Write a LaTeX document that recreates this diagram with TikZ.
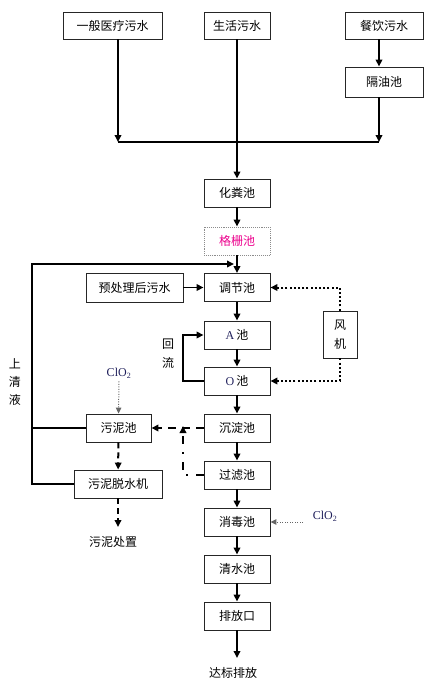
\documentclass[tikz,border=0pt]{standalone}
\usepackage{fontspec}
\setmainfont{Liberation Serif}
\newfontfamily\cjk{Noto Sans CJK SC}
\usetikzlibrary{arrows.meta}
\definecolor{navy}{RGB}{30,30,90}
\begin{document}
\begin{tikzpicture}[x=1pt,y=-1pt,
  box/.style={draw=black!85, line width=0.9pt, minimum width=66pt, minimum height=28pt, inner sep=0pt, font=\cjk\fontsize{12}{14}\selectfont},
  lbl/.style={inner sep=0pt, font=\cjk\fontsize{12}{14}\selectfont},
  tip/.style={-{Triangle[length=7pt,width=6.5pt]}},
  flow/.style={line width=1.8pt, tip},
  ln/.style={line width=1.8pt},
  dotflow/.style={line width=2pt, dash pattern=on 2pt off 2.2pt, tip},
  thindot/.style={line width=1pt, draw=black!60, dash pattern=on 1pt off 1.5pt, -{Triangle[length=6pt,width=5.5pt]}},
  dashflow/.style={line width=2pt, dash pattern=on 8pt off 6pt, tip},
  dashdotflow/.style={line width=2pt, dash pattern=on 8pt off 8pt on 2pt off 8pt, tip},
  sdash/.style={line width=2pt, dash pattern=on 6pt off 4pt, tip}
]
\useasboundingbox (0,0) rectangle (438,683);

% top sources
\node[box, minimum width=99pt, minimum height=27pt] (yiban) at (112.5,25.5) {一般医疗污水};
\node[box, minimum width=66pt, minimum height=27pt] (shenghuo) at (237,25.5) {生活污水};
\node[box, minimum width=78pt, minimum height=27pt] (canyin) at (384,25.5) {餐饮污水};
\node[box, minimum width=78pt, minimum height=30pt] (geyou) at (384,82) {隔油池};

% main column
\node[box] (huafen) at (237,193) {化粪池};
\node[box, draw=black!45, densely dotted, text=magenta] (gezha) at (237,241) {格栅池};
\node[box] (tiaojie) at (237,287.5) {调节池};
\node[box] (Achi) at (237,335) {\textcolor{navy}{\fontspec{Liberation Serif}A}\,池};
\node[box] (Ochi) at (237,381) {\textcolor{navy}{\fontspec{Liberation Serif}O}\,池};
\node[box] (chendian) at (237,428) {沉淀池};
\node[box] (guolv) at (237,475) {过滤池};
\node[box] (xiaodu) at (237,522) {消毒池};
\node[box] (qingshui) at (237,569) {清水池};
\node[box] (paifang) at (237,616) {排放口};
\node[lbl] (dabiao) at (233,673) {达标排放};

% side nodes
\node[box, minimum width=97pt, minimum height=29pt] (yuchuli) at (134.5,287.5) {预处理后污水};
\node[box, minimum width=34pt, minimum height=47pt, align=center] (fengji) at (340,334.5) {风\\[5pt]机};
\node[box, minimum width=65pt] (wunichi) at (118.5,428) {污泥池};
\node[box, minimum width=88pt] (tuoshui) at (118,484) {污泥脱水机};
\node[lbl] (chuzhi) at (113,542) {污泥处置};
\node[inner sep=0pt, text=navy, font=\fontsize{12}{14}\selectfont] (clo2a) at (119,373) {ClO\textsubscript{2}};
\node[inner sep=0pt, text=navy, font=\fontsize{12}{14}\selectfont] (clo2b) at (325,516) {ClO\textsubscript{2}};
\node[lbl] (hui) at (168,344) {回};
\node[lbl] (liu) at (168,363) {流};
\node[lbl, align=center] (shangqing) at (15,382) {上\\[4pt]清\\[4pt]液};

% merging of sources
\coordinate (j1) at (118,142);
\coordinate (j2) at (379,142);
\draw[flow] (yiban.south -| j1) -- (j1);
\draw[flow] (canyin.south -| j2) -- (geyou.north -| j2);
\draw[flow] (geyou.south -| j2) -- (j2);
\draw[ln] (j1) -- (j2);
\draw[flow] (shenghuo) -- (huafen);

% main flow
\draw[flow] (huafen) -- (gezha);
\draw[flow] (gezha) -- (tiaojie);
\draw[flow] (yuchuli) -- (tiaojie);
\draw[flow] (tiaojie) -- (Achi);
\draw[flow] (Achi) -- (Ochi);
\draw[flow] (Ochi) -- (chendian);
\draw[flow] (chendian) -- (guolv);
\draw[flow] (guolv) -- (xiaodu);
\draw[flow] (xiaodu) -- (qingshui);
\draw[flow] (qingshui) -- (paifang);
\coordinate (outend) at (237,658);
\draw[flow] (paifang) -- (outend);

% reflux
\coordinate (rf) at (183,381);
\draw[flow] (Ochi.west) -- (rf) |- (Achi.west);

% blower
\draw[dotflow] (fengji.north) |- (tiaojie.east);
\draw[dotflow] (fengji.south) |- (Ochi.east);

% supernatant return
\coordinate (r1) at (32,484);
\coordinate (r2) at (32,264);
\coordinate (r3) at (234,264);
\draw[flow] (tuoshui.west) -- (r1) -- (r2) -- (r3);
\draw[ln] (wunichi.west) -- (wunichi.west -| r1);

% sludge
\draw[dashflow] (chendian.west) -- (wunichi.east);
\coordinate (d1) at (183,475);
\coordinate (d2) at (183,426);
\draw[dashdotflow] (guolv.west) -- (d1) -- (d2);
\draw[sdash] (wunichi) -- (tuoshui);
\coordinate (sl) at (118,527);
\draw[sdash] (tuoshui.south) -- (sl);
\draw[thindot] ([yshift=-3pt]clo2a.south) -- (wunichi.north);
\coordinate (c2) at (303,522);
\draw[thindot] (c2) -- (xiaodu.east);
\end{tikzpicture}
\end{document}
